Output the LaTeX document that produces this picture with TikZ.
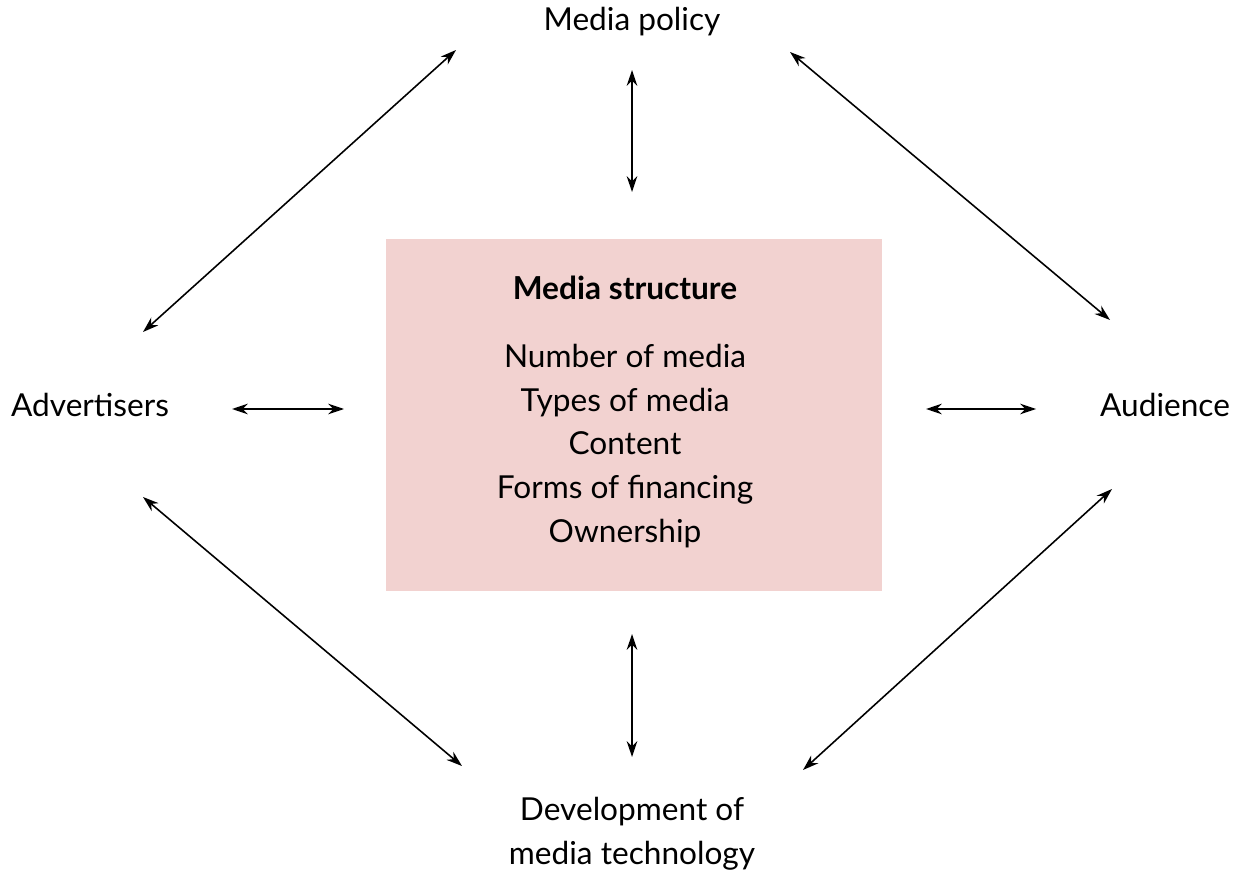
\documentclass[tikz,border=0pt]{standalone}
\usepackage{fontspec}
\setmainfont{Lato}
\usetikzlibrary{arrows.meta}
\definecolor{boxpink}{HTML}{F2D2D0}
\begin{document}
\begin{tikzpicture}[x=0.02cm,y=-0.02cm,
  lbl/.style={font=\fontsize{18}{25}\selectfont, align=center, inner sep=0},
  link/.style={{Stealth[length=9pt,width=6pt]}-{Stealth[length=9pt,width=6pt]}, line width=0.9pt}]
\useasboundingbox (0,0) rectangle (1243,881);
\node[fill=boxpink, minimum width=496*0.02cm, minimum height=352*0.02cm, inner sep=0] (box) at (634,415) {};
\node[lbl, font=\fontsize{18}{25}\selectfont\bfseries] (title) at (625,288) {Media structure};
\node[lbl] (items) at (625,446) {Number of media\\Types of media\\Content\\Forms of financing\\Ownership};
\node[lbl] (mp) at (632,22) {Media policy};
\node[lbl] (adv) at (90,405) {Advertisers};
\node[lbl] (aud) at (1165,405) {Audience};
\node[lbl] (dev) at (632,834) {Development of\\media technology};
\coordinate (a1) at (456,50); \coordinate (a2) at (143,332);
\coordinate (b1) at (632,70); \coordinate (b2) at (632,192);
\coordinate (c1) at (790,52); \coordinate (c2) at (1110,320);
\coordinate (d1) at (232,409); \coordinate (d2) at (344,409);
\coordinate (e1) at (926,409); \coordinate (e2) at (1036,409);
\coordinate (f1) at (143,497); \coordinate (f2) at (462,766);
\coordinate (g1) at (632,634); \coordinate (g2) at (632,757);
\coordinate (h1) at (1112,489); \coordinate (h2) at (803,770);
\foreach \p/\q in {a1/a2,b1/b2,c1/c2,d1/d2,e1/e2,f1/f2,g1/g2,h1/h2}
  \draw[link] (\p) -- (\q);
\end{tikzpicture}
\end{document}
